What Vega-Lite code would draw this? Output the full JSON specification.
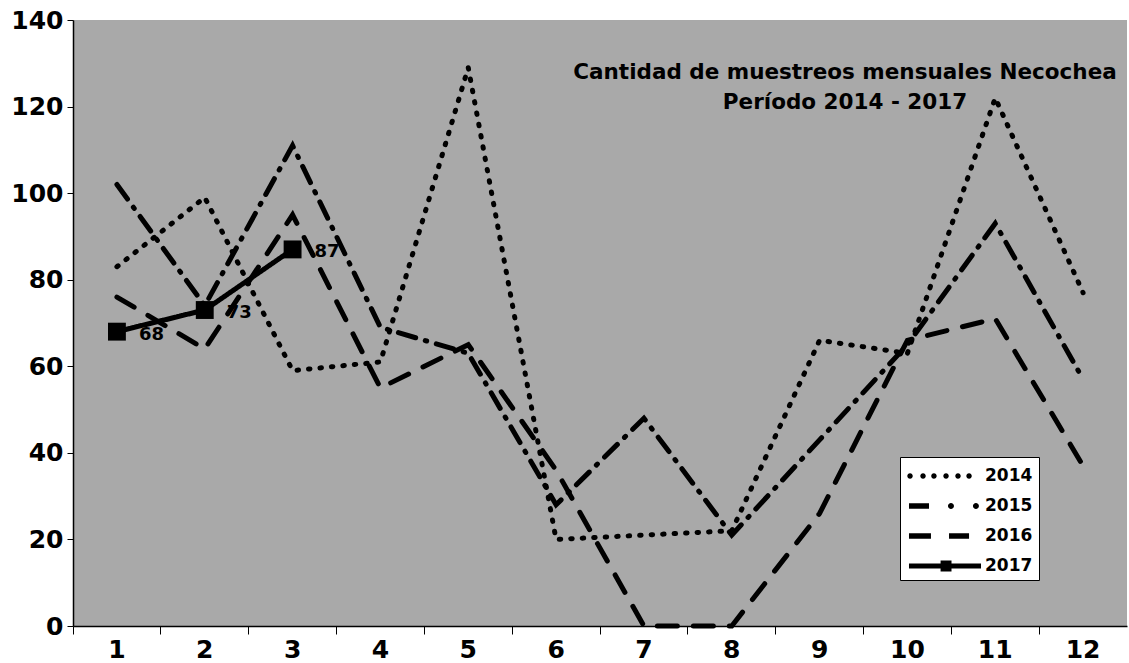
{
  "$schema": "https://vega.github.io/schema/vega-lite/v6.json",
  "width": 1054,
  "height": 606,
  "autosize": {"type": "none"},
  "padding": {"left": 73, "top": 20, "right": 2, "bottom": 37},
  "background": "white",
  "config": {
    "font": "DejaVu Sans",
    "view": {"fill": "#a9a9a9", "stroke": null}
  },
  "title": {
    "text": ["Cantidad de muestreos mensuales Necochea", "Período 2014 - 2017"],
    "anchor": "end",
    "align": "center",
    "frame": "group",
    "dx": -282,
    "offset": -105,
    "fontSize": 21.5,
    "fontWeight": "bold",
    "color": "black",
    "lineHeight": 30,
    "font": "DejaVu Sans"
  },
  "data": {
    "values": [
      {"mes": "1", "anio": "2014", "valor": 83},
      {"mes": "2", "anio": "2014", "valor": 99},
      {"mes": "3", "anio": "2014", "valor": 59},
      {"mes": "4", "anio": "2014", "valor": 61},
      {"mes": "5", "anio": "2014", "valor": 129},
      {"mes": "6", "anio": "2014", "valor": 20},
      {"mes": "7", "anio": "2014", "valor": 21},
      {"mes": "8", "anio": "2014", "valor": 22},
      {"mes": "9", "anio": "2014", "valor": 66},
      {"mes": "10", "anio": "2014", "valor": 63},
      {"mes": "11", "anio": "2014", "valor": 122},
      {"mes": "12", "anio": "2014", "valor": 77},
      {"mes": "1", "anio": "2015", "valor": 102},
      {"mes": "2", "anio": "2015", "valor": 74},
      {"mes": "3", "anio": "2015", "valor": 111},
      {"mes": "4", "anio": "2015", "valor": 69},
      {"mes": "5", "anio": "2015", "valor": 63},
      {"mes": "6", "anio": "2015", "valor": 28},
      {"mes": "7", "anio": "2015", "valor": 48},
      {"mes": "8", "anio": "2015", "valor": 21},
      {"mes": "9", "anio": "2015", "valor": 43},
      {"mes": "10", "anio": "2015", "valor": 65},
      {"mes": "11", "anio": "2015", "valor": 93},
      {"mes": "12", "anio": "2015", "valor": 57},
      {"mes": "1", "anio": "2016", "valor": 76},
      {"mes": "2", "anio": "2016", "valor": 64},
      {"mes": "3", "anio": "2016", "valor": 95},
      {"mes": "4", "anio": "2016", "valor": 55},
      {"mes": "5", "anio": "2016", "valor": 65},
      {"mes": "6", "anio": "2016", "valor": 36},
      {"mes": "7", "anio": "2016", "valor": 0},
      {"mes": "8", "anio": "2016", "valor": 0},
      {"mes": "9", "anio": "2016", "valor": 26},
      {"mes": "10", "anio": "2016", "valor": 66},
      {"mes": "11", "anio": "2016", "valor": 71},
      {"mes": "12", "anio": "2016", "valor": 37},
      {"mes": "1", "anio": "2017", "valor": 68},
      {"mes": "2", "anio": "2017", "valor": 73},
      {"mes": "3", "anio": "2017", "valor": 87}
    ]
  },
  "encoding": {
    "x": {
      "field": "mes",
      "type": "ordinal",
      "sort": ["1","2","3","4","5","6","7","8","9","10","11","12"],
      "bandPosition": 0.5,
      "scale": {"type": "band", "paddingInner": 0, "paddingOuter": 0},
      "axis": {
        "title": null,
        "labelAngle": 0,
        "labelFontSize": 25,
        "labelFontWeight": "bold",
        "labelColor": "black",
        "labelPadding": 3,
        "bandPosition": 0,
        "tickSize": 8,
        "tickColor": "black",
        "domainColor": "black",
        "domainWidth": 1.5,
        "grid": false
      }
    },
    "y": {
      "field": "valor",
      "type": "quantitative",
      "scale": {"domain": [0, 140], "nice": false},
      "axis": {
        "title": null,
        "values": [0, 20, 40, 60, 80, 100, 120, 140],
        "labelFontSize": 25,
        "labelFontWeight": "bold",
        "labelColor": "black",
        "labelPadding": 4,
        "tickSize": 6,
        "tickColor": "black",
        "domainColor": "black",
        "domainWidth": 1.5,
        "grid": false
      }
    }
  },
  "layer": [
    {
      "mark": {"type": "line", "color": "black", "strokeWidth": 5, "strokeCap": "round"},
      "encoding": {
        "strokeDash": {
          "field": "anio",
          "type": "nominal",
          "scale": {
            "domain": ["2014", "2015", "2016", "2017"],
            "range": [[1.5, 10], [18, 10, 1.5, 10], [20, 16], [1, 0]]
          },
          "legend": {
            "title": null,
            "orient": "none",
            "legendX": 827,
            "legendY": 437,
            "fillColor": "white",
            "strokeColor": "black",
            "padding": 6,
            "symbolSize": 676,
            "symbolStrokeWidth": 0,
            "symbolFillColor": "black",
            "symbolOpacity": 1,
            "labelFontSize": 17,
            "labelFontWeight": "bold",
            "labelColor": "black",
            "labelFont": "DejaVu Sans",
            "rowPadding": 9,
            "labelOffset": 53
          }
        }
      }
    },
    {
      "mark": {"type": "point", "filled": true, "color": "black", "opacity": 0},
      "encoding": {
        "shape": {
          "field": "anio",
          "type": "nominal",
          "scale": {
            "domain": ["2014", "2015", "2016", "2017"],
            "range": [
              "M-0.9,0a0.21,0.21 0 1,0 0.42,0a0.21,0.21 0 1,0 -0.42,0M0.1,0a0.21,0.21 0 1,0 0.42,0a0.21,0.21 0 1,0 -0.42,0M0.94,0a0.21,0.21 0 1,0 0.42,0a0.21,0.21 0 1,0 -0.42,0M1.87,0a0.21,0.21 0 1,0 0.42,0a0.21,0.21 0 1,0 -0.42,0M2.79,0a0.21,0.21 0 1,0 0.42,0a0.21,0.21 0 1,0 -0.42,0M3.64,0a0.21,0.21 0 1,0 0.42,0a0.21,0.21 0 1,0 -0.42,0",
              "M-0.77,-0.22H0.77V0.22H-0.77ZM2.23,0a0.23,0.23 0 1,0 0.46,0a0.23,0.23 0 1,0 -0.46,0M4.15,0a0.23,0.23 0 1,0 0.46,0a0.23,0.23 0 1,0 -0.46,0",
              "M-0.77,-0.22H0.92V0.22H-0.77ZM2.31,-0.22H3.85V0.22H2.31Z",
              "M-0.77,-0.2H4.77V0.2H-0.77ZM1.66,-0.42H2.5V0.42H1.66Z"
            ]
          },
          "legend": {
            "title": null,
            "orient": "none",
            "legendX": 827,
            "legendY": 437,
            "fillColor": "white",
            "strokeColor": "black",
            "padding": 6,
            "symbolSize": 676,
            "symbolStrokeWidth": 0,
            "symbolFillColor": "black",
            "symbolOpacity": 1,
            "labelFontSize": 17,
            "labelFontWeight": "bold",
            "labelColor": "black",
            "labelFont": "DejaVu Sans",
            "rowPadding": 9,
            "labelOffset": 53
          }
        }
      }
    },
    {
      "transform": [{"filter": "datum.anio === '2017'"}],
      "mark": {"type": "square", "color": "black", "filled": true, "size": 320, "opacity": 1},
      "encoding": {}
    },
    {
      "transform": [{"filter": "datum.anio === '2017'"}],
      "mark": {"type": "text", "align": "left", "baseline": "middle", "dx": 22, "dy": 3, "fontSize": 18, "fontWeight": "bold", "color": "black"},
      "encoding": {"text": {"field": "valor", "type": "quantitative"}}
    }
  ]
}
